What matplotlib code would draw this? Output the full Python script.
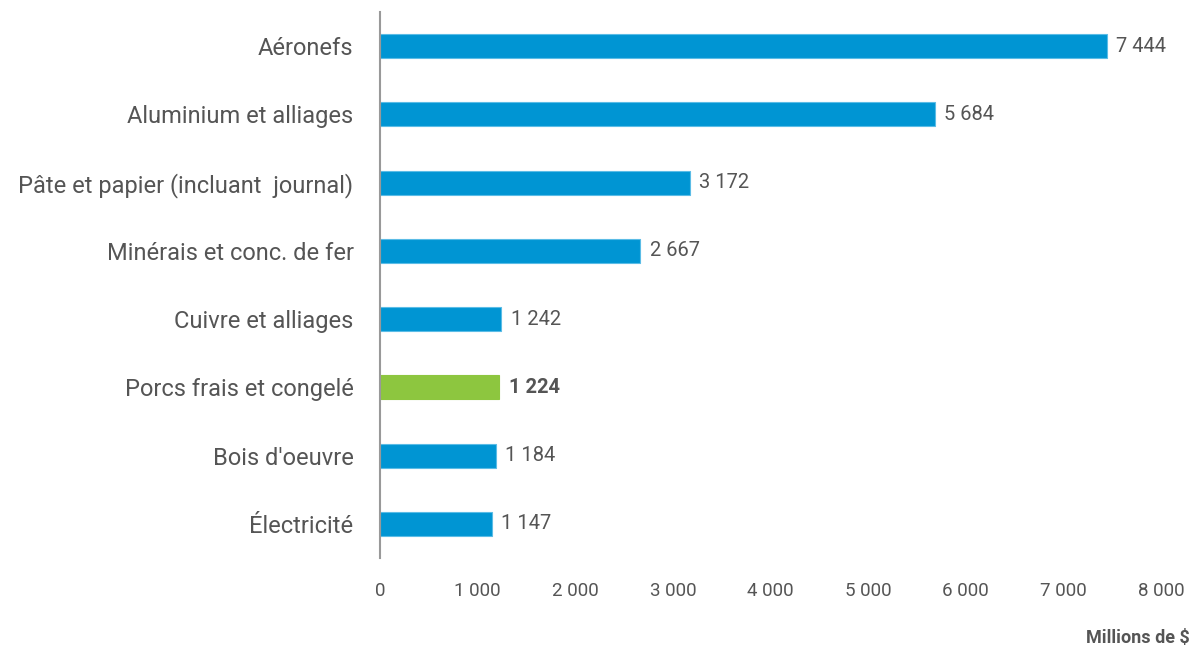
import matplotlib
matplotlib.use("Agg")
import matplotlib.pyplot as plt

categories = ["Aéronefs", "Aluminium et alliages", "Pâte et papier (incluant  journal)",
              "Minérais et conc. de fer", "Cuivre et alliages", "Porcs frais et congelé",
              "Bois d'oeuvre", "Électricité"]
values = [7444, 5684, 3172, 2667, 1242, 1224, 1184, 1147]
highlight = "Porcs frais et congelé"
xticks = [0, 1000, 2000, 3000, 4000, 5000, 6000, 7000, 8000]

def fmt(v):
    return f"{v:,}".replace(",", " ")

plt.rcParams['font.family'] = ['Roboto', 'DejaVu Sans']
BLUE = "#0095D3"
GREEN = "#8DC63F"
TXT = "#555555"

fig = plt.figure(figsize=(11.94, 6.5), dpi=100)
ax = fig.add_axes([380/1194, 1-558/650, (1161-380)/1194, (558-12)/650])

ypos = list(range(len(categories)))
colors = [GREEN if c == highlight else BLUE for c in categories]
ax.barh(ypos, values, height=0.35, color=colors,
        edgecolor=[("#5bbce6" if c == BLUE else c) for c in colors], linewidth=0.8)
ax.set_ylim(len(categories)-0.5, -0.5)
ax.set_xlim(0, 8000)
ax.set_yticks(ypos)
ax.set_yticklabels(categories, fontsize=17, color=TXT)
ax.set_xticks(xticks)
ax.set_xticklabels([fmt(t) for t in xticks], fontsize=13.5, color=TXT)
ax.tick_params(axis='both', length=0)
ax.tick_params(axis='y', pad=19)
ax.tick_params(axis='x', pad=17)
for s in ['top', 'right', 'bottom']:
    ax.spines[s].set_visible(False)
ax.spines['left'].set_color('#999999')
ax.spines['left'].set_linewidth(1.5)

for y, v, c in zip(ypos, values, categories):
    ax.text(v + 95, y, fmt(v), va='center', ha='left', fontsize=14.5, color=TXT,
            fontweight='bold' if c == highlight else 'normal')

fig.text(1190/1194, 1-638/650, "Millions de $", ha='right', va='center', fontsize=13,
         fontweight='bold', color=TXT)

fig.savefig("out.png", dpi=100)
